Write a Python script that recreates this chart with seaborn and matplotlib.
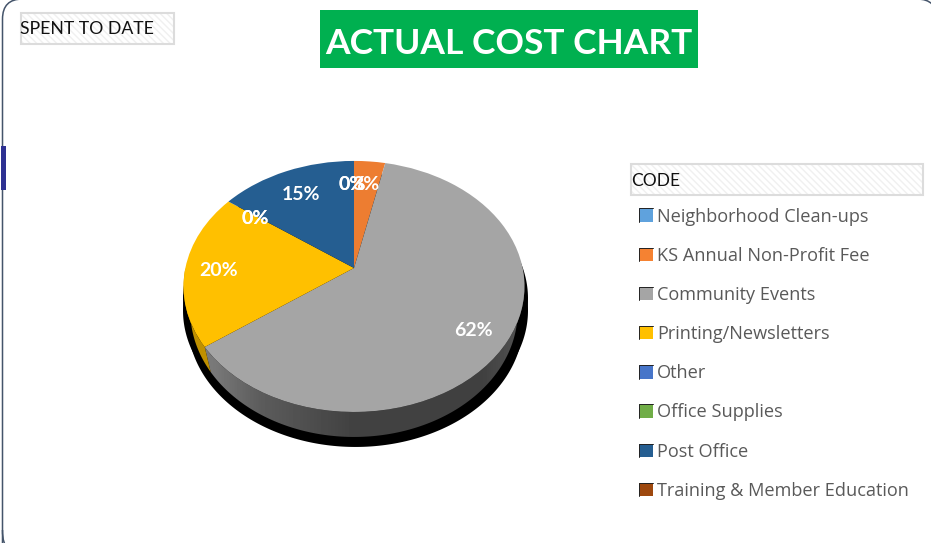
import numpy as np
import matplotlib
matplotlib.use("Agg")
import matplotlib.pyplot as plt
import seaborn as sns
from matplotlib.legend_handler import HandlerBase
from matplotlib.lines import Line2D
from matplotlib.patches import PathPatch, Rectangle, Patch
from matplotlib.path import Path

categories = ["Neighborhood Clean-ups", "KS Annual Non-Profit Fee", "Community Events",
              "Printing/Newsletters", "Other", "Office Supplies", "Post Office",
              "Training & Member Education"]
values = [0, 3.4, 61.6, 20, 0, 0, 15, 0]
slice_colors = ["#5B9BD5", "#ED7D31", "#A5A5A5", "#FFC000", "#4472C4", "#70AD47", "#255E91", "#9E480E"]
legend_colors = ["#5FA2DD", "#F58232", "#A5A5A5", "#FFC000", "#4775C9", "#70AD47", "#255E91", "#9E480E"]
label_pos = [(352, 185), (366, 185), (473, 330), (219, 270), (255, 218), (255, 218), (301, 195), (352, 185)]
title_text = "ACTUAL COST CHART"
spent_text = "SPENT TO DATE"
code_text = "CODE"

sns.set_theme(style="white")
fig = plt.figure(figsize=(9.31, 5.43), dpi=100, facecolor="white")
ax = fig.add_axes([0, 0, 1, 1])

# perspective placement of the pie (pixel space)
CX, CY, A, B, K = 354.0, 268.0, 168.6, 122.8, 0.147
DEPTH = 25
WALL_SCALE = 0.96


def project(xy):
    u, v = xy[:, 0], xy[:, 1]
    d = 1 + K * v
    return np.column_stack([CX + A * u / d, CY - B * v / d])


def rim_points(deg_from, deg_to, n=240):
    t = np.radians(np.linspace(deg_from, deg_to, n))
    return project(np.column_stack([np.cos(t), np.sin(t)]))


def wall_points(rim):
    return np.column_stack([CX + (rim[:, 0] - CX) * WALL_SCALE, rim[:, 1] + DEPTH])


wedges, _ = ax.pie(values, colors=slice_colors, startangle=90, counterclock=False,
                   radius=1, center=(0, 0))
top_patches = []
for w in wedges:
    p = w.get_patch_transform().transform_path(w.get_path())
    top_patches.append((Path(project(p.vertices), p.codes), w.get_facecolor()))
    w.remove()

# black cast shadow
rim = rim_points(0, 360, 400)
for shift, sx in [(12, 1.012), (24, 1.012), (35, 0.985)]:
    pts = np.column_stack([CX + 1.5 + (rim[:, 0] - CX) * sx, rim[:, 1] + shift])
    ax.add_patch(plt.Polygon(pts, closed=True, fc="black", ec="none", zorder=1))

# angle (math convention) of the boundary between yellow and grey slices
split = (90 - 3.6 * (values[0] + values[1] + values[2])) % 360

# gradient side wall of the grey slice
grad_x = np.array([190, 215, 260, 350, 480, 524])
grad_v = np.array([0.50, 0.47, 0.36, 0.26, 0.25, 0.33])
xs = np.arange(180, 530)
img = np.interp(xs, grad_x, grad_v)[None, :]
r = rim_points(split, 360)
outline = np.vstack([r, wall_points(r)[::-1]])
im = ax.imshow(img, extent=(180, 530, 450, 250), cmap="gray", vmin=0, vmax=1, aspect="auto", zorder=2)
clip = plt.Polygon(outline, closed=True, transform=ax.transData, fc="none", ec="none")
ax.add_patch(clip)
im.set_clip_path(clip)

# sliver of the yellow slice's side wall
r = rim_points(180, split, 60)
ax.add_patch(plt.Polygon(np.vstack([r, wall_points(r)[::-1]]), closed=True, fc="#BF9000", ec="none", zorder=3))

for path, col in top_patches:
    ax.add_patch(PathPatch(path, fc=col, ec="none", zorder=4))

for v, (x, y) in zip(values, label_pos):
    ax.text(x, y, f"{v:.0f}%", color="white", fontsize=14, fontweight="bold", family="Lato",
            ha="center", va="center", zorder=6)

# title
ax.add_patch(Rectangle((320, 10), 378, 58, fc="#00B050", ec="none", zorder=3))
ax.text(509, 43.5, title_text, color="white", fontsize=25.5, fontweight="bold", family="Lato",
        ha="center", va="center", zorder=5)


def hatched(x, y, w, h):
    ax.add_patch(Rectangle((x, y), w, h, fc="white", ec="#F0F0F0", hatch="\\\\\\\\\\", lw=0, zorder=2))
    ax.add_patch(Rectangle((x, y), w, h, fc="none", ec="#DCDCDC", lw=1.5, zorder=3))


hatched(20.5, 12.5, 153, 31)
ax.text(20, 29.5, spent_text, color="#111111", fontsize=12.7, family="Lato", va="center", zorder=5)
hatched(631, 163.5, 292, 31)
ax.text(631, 181, code_text, color="#111111", fontsize=12.5, family="Lato", va="center", zorder=5)


class SwatchHandler(HandlerBase):
    """Colour square with the thin dark top and left edges of the reference."""

    def create_artists(self, legend, orig, xdescent, ydescent, width, height, fontsize, trans):
        x0, y0, x1, y1 = -xdescent, -ydescent, width - xdescent, height - ydescent
        square = Rectangle((x0, y0), width, height, fc=orig.get_facecolor(), ec="none", transform=trans)
        edge = Line2D([x0, x0, x1], [y0, y1, y1], color="#222222", lw=0.7, transform=trans,
                      solid_joinstyle="miter")
        return [square, edge]


# legend
handles = [Patch(fc=c, ec="none") for c in legend_colors]
leg = ax.legend(handles, categories, loc="upper left", bbox_to_anchor=(639 / 931, 1 - 207.5 / 543),
                bbox_transform=fig.transFigure, frameon=False, labelspacing=1.165,
                handlelength=0.76, handleheight=0.76, handletextpad=0.22, borderpad=0, borderaxespad=0,
                handler_map={Patch: SwatchHandler()},
                prop={"family": "Open Sans", "size": 13.1})
for text in leg.get_texts():
    text.set_color("#595959")

# outer rounded frame (runs off the canvas) and marker
frame_verts = [(2.5, 19), (2.5, -1), (22.5, -1), (917, -1), (937, -1), (937, 19),
               (937, 580), (2.5, 580), (2.5, 530)]
frame_codes = [Path.MOVETO, Path.CURVE3, Path.CURVE3, Path.LINETO, Path.CURVE3, Path.CURVE3,
               Path.LINETO, Path.MOVETO, Path.LINETO]
ax.add_patch(PathPatch(Path(frame_verts, frame_codes), fc="none", ec="#44546A", lw=1.1, zorder=0))
ax.add_patch(PathPatch(Path([(2.5, 19), (2.5, 530), (2.5, 545), (8, 548)],
                            [Path.MOVETO, Path.LINETO, Path.CURVE3, Path.CURVE3]),
                       fc="none", ec="#44546A", lw=1.1, zorder=0))
ax.add_patch(Rectangle((1, 146), 5, 44, fc="#2E3192", ec="none", zorder=3))

ax.set_aspect("auto")
ax.set_xlim(0, 931)
ax.set_ylim(543, 0)
ax.axis("off")
fig.savefig("out.png", dpi=100)
